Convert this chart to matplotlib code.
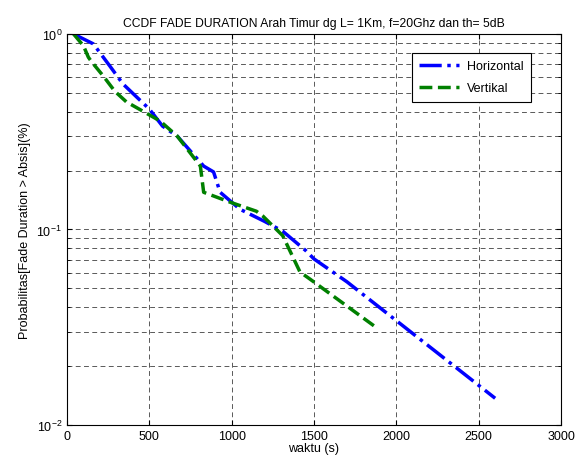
import matplotlib
matplotlib.use('Agg')
import matplotlib.pyplot as plt

plt.rcParams['font.family'] = ['Liberation Sans', 'DejaVu Sans']
plt.rcParams['mathtext.fontset'] = 'custom'
plt.rcParams['mathtext.rm'] = 'Liberation Sans'

# data
horiz_x = [40, 160, 260, 340, 500, 580, 670, 830, 890, 930, 1050, 1200, 1310, 1450, 1500, 1700, 2600]
horiz_y = [1.0, 0.89, 0.686, 0.555, 0.413, 0.338, 0.30, 0.211, 0.197, 0.155, 0.127, 0.11, 0.098, 0.078, 0.0707, 0.054, 0.0137]

vert_x = [40, 100, 130, 150, 220, 290, 360, 490, 565, 670, 810, 830, 990, 1150, 1190, 1310, 1415, 1475, 1890]
vert_y = [1.0, 0.87, 0.76, 0.72, 0.61, 0.51, 0.45, 0.39, 0.359, 0.30, 0.211, 0.155, 0.138, 0.124, 0.117, 0.093, 0.0606, 0.0558, 0.031]

fig = plt.figure(figsize=(5.85, 4.64), dpi=100)
ax = fig.add_axes([0.1145, 0.0819, 0.8445, 0.8427])

ax.semilogy(horiz_x, horiz_y, color='blue', linestyle='-.', linewidth=2.5, label='Horizontal')
ax.semilogy(vert_x, vert_y, color='green', linestyle='--', linewidth=2.5, label='Vertikal')

ax.set_xlim(0, 3000)
ax.set_ylim(1e-2, 1)
ax.set_xticks(range(0, 3001, 500))

ax.grid(True, which='major', color='0.35', linestyle=(0, (5, 3.5)), linewidth=0.7)
ax.grid(True, which='minor', axis='y', color='0.35', linestyle=(0, (5, 3.5)), linewidth=0.7)
ax.tick_params(which='both', direction='in', top=True, right=True, labelsize=9)

ax.set_title('CCDF FADE DURATION Arah Timur dg L= 1Km, f=20Ghz dan th= 5dB', fontsize=8.7)
ax.set_xlabel('waktu (s)', fontsize=9, labelpad=0)
ax.set_ylabel('Probabilitas[Fade Duration > Absis](%)', fontsize=9)

leg = ax.legend(loc='upper right', bbox_to_anchor=(0.952, 0.968), fontsize=9,
                fancybox=False, framealpha=1, edgecolor='black', handlelength=3.2,
                borderpad=0.6, labelspacing=0.8, handletextpad=0.6)
leg.get_frame().set_linewidth(0.8)

fig.savefig('out.png', dpi=100)
